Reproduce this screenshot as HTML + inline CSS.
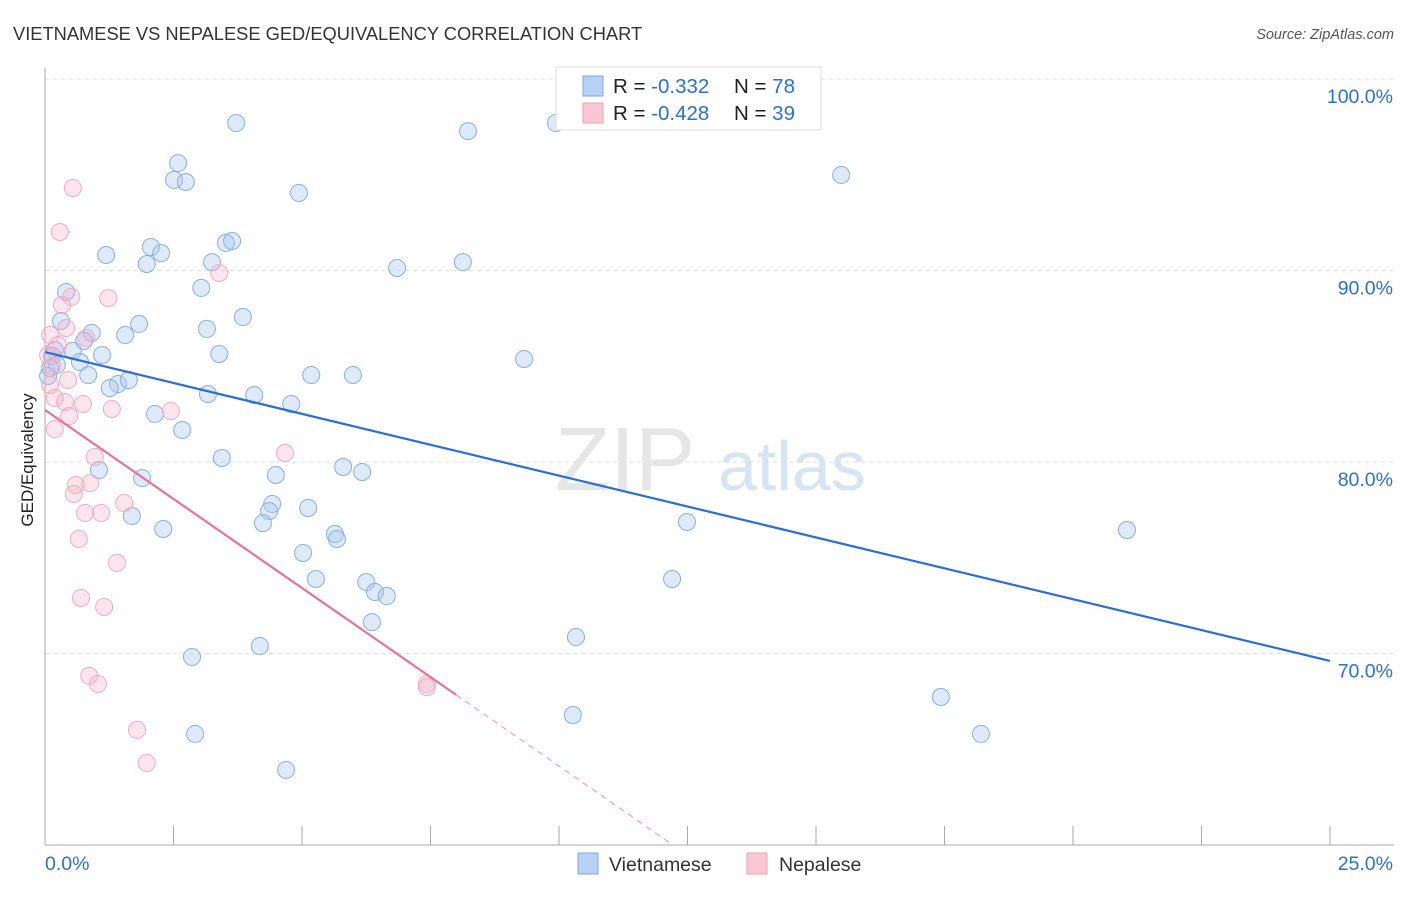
<!DOCTYPE html>
<html><head><meta charset="utf-8"><style>
body{margin:0;background:#fff;font-family:"Liberation Sans",sans-serif}
svg text{font-family:"Liberation Sans",sans-serif}
</style></head><body>
<svg id="c" width="1406" height="892">
<text x="13" y="40" font-size="18.3" fill="#333">VIETNAMESE VS NEPALESE GED/EQUIVALENCY CORRELATION CHART</text>
<text x="1394" y="39" font-size="14.5" fill="#555" font-style="italic" text-anchor="end">Source: ZipAtlas.com</text>
<text x="33" y="460" font-size="17" fill="#222" text-anchor="middle" transform="rotate(-90 33 460)">GED/Equivalency</text>
<text x="555" y="490" font-size="90" fill="#e6e6e6" font-family="Liberation Serif">ZIP</text>
<text x="718" y="490" font-size="70" fill="#d6e4f5">atlas</text>
<g id="grid"></g><g id="pts"></g><g id="lines"></g>
<g>
<rect x="556" y="67" width="265" height="63" fill="#fff" stroke="#ddd"/>
<rect x="583" y="76" width="20" height="20" fill="#b7d2f5" stroke="#7aa8e6"/>
<rect x="583" y="103" width="20" height="20" fill="#f8c6d5" stroke="#eea0ba"/>
<text x="613" y="93" font-size="20.5" fill="#222">R = <tspan fill="#2a6fd6">-0.332</tspan><tspan x="734">N = </tspan><tspan fill="#2a6fd6">78</tspan></text>
<text x="613" y="120" font-size="20.5" fill="#222">R = <tspan fill="#2a6fd6">-0.428</tspan><tspan x="734">N = </tspan><tspan fill="#2a6fd6">39</tspan></text>
</g>
<g>
<rect x="578" y="853" width="20" height="21" fill="#b7d2f5" stroke="#7aa8e6"/>
<text x="609" y="871" font-size="19.5" fill="#333">Vietnamese</text>
<rect x="747" y="853" width="20" height="21" fill="#f8c6d5" stroke="#eea0ba"/>
<text x="779" y="871" font-size="19.5" fill="#333">Nepalese</text>
</g>
</svg>
<script>
const blueX=[3.72,8.23,9.94,2.59,2.51,2.74,4.94,15.49,2.06,2.26,3.52,3.64,1.19,1.98,3.25,6.85,8.13,3.04,0.41,3.85,1.83,3.15,0.31,0.91,1.56,0.76,0.54,1.11,3.39,9.32,0.68,0.19,0.14,0.23,0.84,5.18,5.99,1.42,1.26,1.63,3.17,4.07,4.79,2.14,2.67,3.44,5.80,6.17,1.05,4.49,1.89,4.42,4.36,1.69,5.12,4.24,12.49,2.30,21.05,5.64,5.68,5.02,5.27,6.25,6.42,6.65,12.20,6.36,10.33,4.18,2.86,17.43,10.27,2.92,18.21,4.69,0.10,0.06];
const blueY=[97.70,97.28,97.70,95.61,94.73,94.62,94.05,94.99,91.23,90.91,91.44,91.54,90.81,90.34,90.44,90.13,90.44,89.09,88.88,87.57,87.21,86.95,87.36,86.74,86.63,86.32,85.80,85.59,85.64,85.38,85.22,85.85,85.54,85.07,84.54,84.54,84.54,84.07,83.86,84.28,83.55,83.50,83.03,82.51,81.67,80.21,79.74,79.48,79.58,79.32,79.16,77.81,77.44,77.18,77.60,76.81,76.87,76.50,76.45,76.24,75.98,75.25,73.89,73.73,73.21,73.00,73.89,71.64,70.86,70.39,69.82,67.73,66.79,65.80,65.80,63.92,84.91,84.49];
const pinkX=[0.54,0.29,3.39,1.23,0.51,0.33,0.41,0.10,0.80,0.06,0.45,0.19,0.39,0.74,1.30,2.45,0.47,0.19,4.67,0.97,0.88,0.60,0.56,1.54,0.78,1.09,0.66,1.40,0.70,1.15,0.86,1.03,7.43,7.43,1.79,1.98,0.10,0.25,0.14];
const pinkY=[94.31,92.01,89.87,88.56,88.62,88.20,87.00,86.63,86.48,85.59,84.28,83.34,83.13,83.03,82.77,82.66,82.40,81.72,80.47,80.26,78.90,78.80,78.33,77.86,77.34,77.34,75.98,74.73,72.90,72.43,68.83,68.41,68.41,68.25,66.01,64.28,84.02,86.11,85.01];
const blueTrend=[85.74,69.61];
const pinkTrend=[82.72,-1.86];
const yTicks=[100,90,80,70];
const xTickLabels=["0.0%","25.0%"];
const NS="http://www.w3.org/2000/svg";
const X=v=>45+v*51.4, Y=v=>79+(100-v)*19.15;
function mk(t,a,p){const e=document.createElementNS(NS,t);for(const k in a)e.setAttribute(k,a[k]);p.appendChild(e);return e;}
const g=document.getElementById('grid');
yTicks.forEach(t=>{
 const l=mk('line',{x1:45,x2:1394,y1:Y(t),y2:Y(t),stroke:'#ddd','stroke-dasharray':'4,4'},g);
 
 
 const tx=mk('text',{x:1393,y:Y(t)+24,'font-size':19.5,fill:'#2a6fd6','text-anchor':'end'},g);tx.textContent=t.toFixed(1)+'%';
 
 
});
mk('line',{x1:45,x2:45,y1:68,y2:845,stroke:'#aaa'},g);
mk('line',{x1:45,x2:1394,y1:845,y2:845,stroke:'#aaa'},g);
for(let i=0;i<=10;i++){const l=mk('line',{x1:X(i*2.5),x2:X(i*2.5),y1:826,y2:845,stroke:'#aaa'},g);
 
 }
const a=mk('text',{x:45,y:870,'font-size':19.5,fill:'#2a6fd6'},g);a.textContent=xTickLabels[0];


const b=mk('text',{x:1393,y:870,'font-size':19.5,fill:'#2a6fd6','text-anchor':'end'},g);b.textContent=xTickLabels[1];


const p=document.getElementById('pts');
blueX.forEach((x,i)=>{const c=mk('circle',{cx:X(x),cy:Y(blueY[i]),r:8.5,fill:'rgba(170,200,240,0.38)',stroke:'#86aee6','stroke-width':1},p);
 
 });
pinkX.forEach((x,i)=>{const c=mk('circle',{cx:X(x),cy:Y(pinkY[i]),r:8.5,fill:'rgba(245,175,198,0.33)',stroke:'#f2abc0','stroke-width':1},p);
 
 });
const L=document.getElementById('lines');
const bl=mk('line',{x1:X(0),y1:Y(blueTrend[0]),x2:X(25),y2:Y(blueTrend[1]),stroke:'#2a6fd6','stroke-width':2.2},L);


const pe=8.0, pd=(pinkTrend[0]-60)/-pinkTrend[1];
const pl=mk('line',{x1:X(0),y1:Y(pinkTrend[0]),x2:X(pe),y2:Y(pinkTrend[0]+pinkTrend[1]*pe),stroke:'#e8739a','stroke-width':2.2},L);


const pl2=mk('line',{x1:X(pe),y1:Y(pinkTrend[0]+pinkTrend[1]*pe),x2:X(pd),y2:Y(60),stroke:'#f0a0b8','stroke-width':1.2,'stroke-dasharray':'6,5'},L);


</script>
</body></html>
